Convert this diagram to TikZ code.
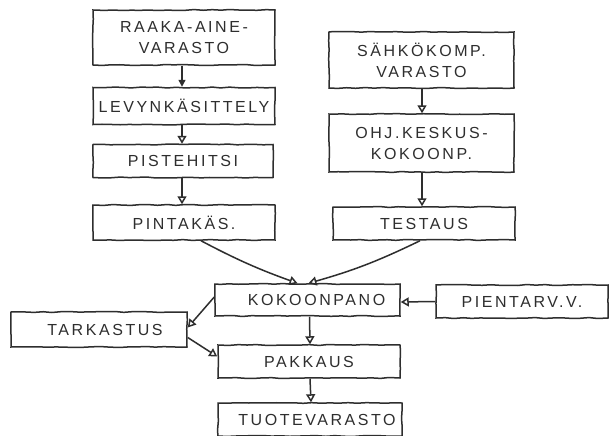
\documentclass[tikz,border=0pt]{standalone}
\usepackage{fontspec}
\setmainfont{Liberation Sans}[LetterSpace=16]
\usetikzlibrary{arrows.meta,decorations.pathmorphing}
\definecolor{ink}{HTML}{2E2E2E}
\begin{document}
\begin{tikzpicture}[x=1pt,y=-1pt,
  every node/.style={font=\fontsize{16}{21}\selectfont, text=ink},
  stepbox/.style={draw=ink, line width=1.5pt, align=center, inner sep=0pt,
    decorate, decoration={random steps, segment length=9pt, amplitude=0.5pt}},
  flow/.style={draw=ink, line width=1.5pt, -{Triangle[open, length=8pt, width=9pt]}},
  flowfill/.style={draw=ink, line width=1.5pt, -{Triangle[length=7pt, width=7pt]}}]
\useasboundingbox (0,0) rectangle (610,436);
\fill[white] (0,0) rectangle (610,436);

% left column: sheet metal line
\node[stepbox, minimum width=182pt, minimum height=55pt] (raw) at (184,37.5) {RAAKA-AINE-\\VARASTO};
\node[stepbox, minimum width=182pt, minimum height=37pt] (lev) at (184,106) {LEVYNKÄSITTELY};
\node[stepbox, minimum width=180pt, minimum height=33pt] (pis) at (183,161) {PISTEHITSI};
\node[stepbox, minimum width=182pt, minimum height=35pt] (pin) at (184,222.5) {PINTAKÄS.};

% right column: electronics line
\node[stepbox, minimum width=185pt, minimum height=56pt] (sah) at (421.5,60) {SÄHKÖKOMP.\\VARASTO};
\node[stepbox, minimum width=185pt, minimum height=58pt] (ohj) at (421.5,143) {OHJ.KESKUS-\\KOKOONP.};
\node[stepbox, minimum width=182pt, minimum height=33pt] (tes) at (424,223.5) {TESTAUS};

% assembly and dispatch
\node[stepbox, minimum width=185pt, minimum height=32pt] (kok) at (307.5,300) {\hspace*{18pt}KOKOONPANO};
\node[stepbox, minimum width=172pt, minimum height=33pt] (pie) at (522,301.5) {PIENTARV.V.};
\node[stepbox, minimum width=176pt, minimum height=35pt] (tar) at (99,329.5) {\hspace*{12pt}TARKASTUS};
\node[stepbox, minimum width=182pt, minimum height=33pt] (pak) at (309,361.5) {PAKKAUS};
\node[stepbox, minimum width=184pt, minimum height=33pt] (tuo) at (310,419.5) {\hspace*{14pt}TUOTEVARASTO};

% connectors
\draw[flowfill] ([xshift=-2pt]raw.south) -- ([xshift=-2pt]lev.north);
\draw[flow] ([xshift=-2pt]lev.south) -- ([xshift=-1pt]pis.north);
\draw[flow] ([xshift=-1pt]pis.south) -- ([xshift=-2pt]pin.north);
\draw[flow] ([xshift=0.5pt]sah.south) -- ([xshift=0.5pt]ohj.north);
\draw[flow] ([xshift=0.5pt]ohj.south) -- ([xshift=-2pt]tes.north);
\draw[flow] ([xshift=17pt]pin.south) to[bend right=4] ([xshift=-10pt]kok.north);
\draw[flow] ([xshift=-4pt]tes.south) to[bend left=5] ([xshift=1pt]kok.north);
\draw[flow] (pie.west) -- ([yshift=-2pt]kok.east);
\draw[flow] ([yshift=3pt]kok.west) -- ([yshift=2pt]tar.east);
\draw[flow] ([yshift=-8pt]tar.east) -- ([yshift=5pt]pak.west);
\draw[flow] ([xshift=2pt]kok.south) -- ([xshift=1pt]pak.north);
\draw[flow] ([xshift=1pt]pak.south) -- ([xshift=1pt]tuo.north);
\end{tikzpicture}
\end{document}
